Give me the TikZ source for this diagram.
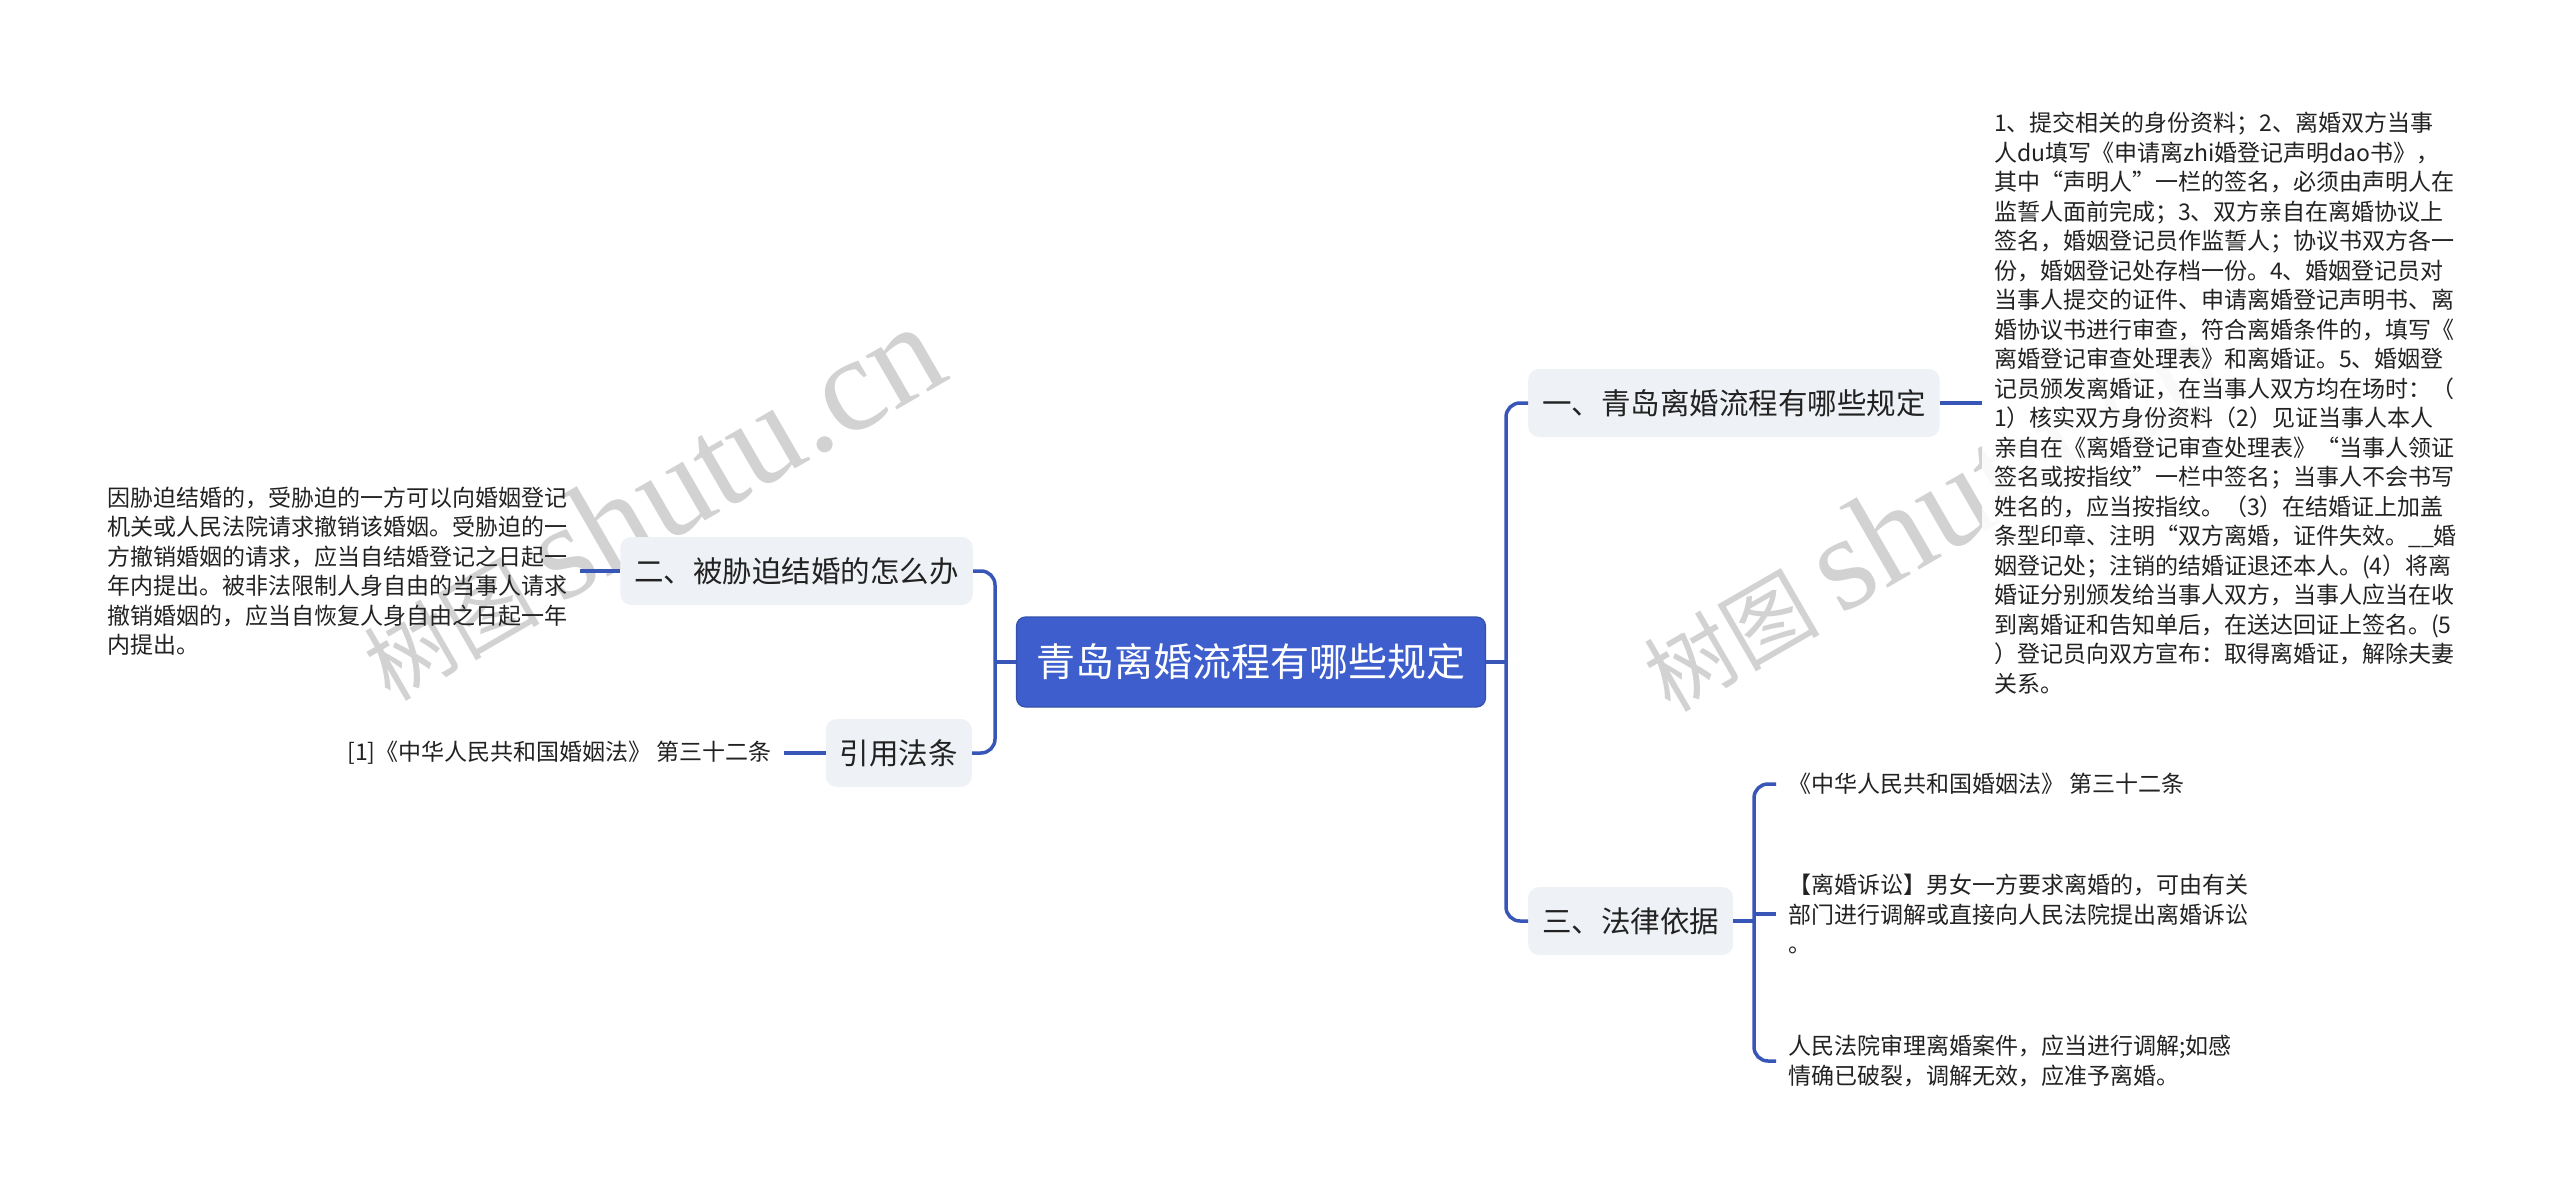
\documentclass[tikz,border=0pt]{standalone}
\usepackage{fontspec}
\newfontfamily\cjk{Noto Sans CJK SC}
\newfontfamily\wmlat{Liberation Serif}
\definecolor{rootblue}{RGB}{61,94,204}
\definecolor{linkblue}{RGB}{56,86,184}
\definecolor{subfill}{RGB}{238,241,245}
\definecolor{txt}{RGB}{34,34,34}
\definecolor{wmgray}{RGB}{210,210,210}
\tikzset{
  rootbox/.style={fill=rootblue, draw=rootblue!85!black, line width=1.2, rounded corners=9,
    text=white, font=\cjk\fontsize{39}{47}\selectfont, inner xsep=20, inner ysep=0, minimum height=90},
  subbox/.style={fill=subfill, rounded corners=11, text=txt,
    font=\cjk\fontsize{29.5}{36}\selectfont, inner xsep=14, inner ysep=0, minimum height=68},
  leaf/.style={text=txt, font=\cjk\fontsize{23}{29.5}\selectfont, align=left, inner xsep=12, inner ysep=4},
  conn/.style={draw=linkblue, line width=3.5},
  wm/.style={text=wmgray, rotate=30, inner sep=0}
}
\begin{document}
\begin{tikzpicture}[x=1pt,y=-1pt]
\path[use as bounding box, fill=white] (0,0) rectangle (2560,1199);

% watermarks
\node[wm] (wmA) at (650,503) {{\cjk\fontsize{88}{90}\selectfont 树图}\hspace{20pt}{\wmlat\fontsize{135}{140}\selectfont shutu.cn}};
\node[wm] (wmB) at (1930,514) {{\cjk\fontsize{88}{90}\selectfont 树图}\hspace{20pt}{\wmlat\fontsize{135}{140}\selectfont shutu.cn}};

% main nodes
\node[rootbox] (root) at (1251,662) {青岛离婚流程有哪些规定};
\node[subbox, anchor=west] (n1) at (1528,403) {一、青岛离婚流程有哪些规定};
\node[subbox, anchor=west] (n3) at (1528,921) {三、法律依据};
\node[subbox, anchor=east] (n2) at (973,571) {二、被胁迫结婚的怎么办};
\node[subbox, anchor=east] (n4) at (972,753) {引用法条};

% leaves
\node[leaf, anchor=west, fill=white, fill opacity=0.88, text opacity=1] (t1) at (1982,403) {1、提交相关的身份资料；2、离婚双方当事\\
人du填写《申请离zhi婚登记声明dao书》，\\
其中“声明人”一栏的签名，必须由声明人在\\
监誓人面前完成；3、双方亲自在离婚协议上\\
签名，婚姻登记员作监誓人；协议书双方各一\\
份，婚姻登记处存档一份。4、婚姻登记员对\\
当事人提交的证件、申请离婚登记声明书、离\\
婚协议书进行审查，符合离婚条件的，填写《\\
离婚登记审查处理表》和离婚证。5、婚姻登\\
记员颁发离婚证，在当事人双方均在场时：（\\
1）核实双方身份资料（2）见证当事人本人\\
亲自在《离婚登记审查处理表》“当事人领证\\
签名或按指纹”一栏中签名；当事人不会书写\\
姓名的，应当按指纹。（3）在结婚证上加盖\\
条型印章、注明“双方离婚，证件失效。\_\_婚\\
姻登记处；注销的结婚证退还本人。(4）将离\\
婚证分别颁发给当事人双方，当事人应当在收\\
到离婚证和告知单后，在送达回证上签名。(5\\
）登记员向双方宣布：取得离婚证，解除夫妻\\
关系。};

\node[leaf, anchor=east] (t2) at (580,571) {因胁迫结婚的，受胁迫的一方可以向婚姻登记\\
机关或人民法院请求撤销该婚姻。受胁迫的一\\
方撤销婚姻的请求，应当自结婚登记之日起一\\
年内提出。被非法限制人身自由的当事人请求\\
撤销婚姻的，应当自恢复人身自由之日起一年\\
内提出。};

\node[leaf, anchor=east] (t4) at (784,753) {[1]《中华人民共和国婚姻法》 第三十二条};

\node[leaf, anchor=west] (ca) at (1776,784) {《中华人民共和国婚姻法》 第三十二条};
\node[leaf, anchor=west] (cb) at (1776,914) {【离婚诉讼】男女一方要求离婚的，可由有关\\
部门进行调解或直接向人民法院提出离婚诉讼\\
。};
\node[leaf, anchor=west] (cc) at (1776,1061) {人民法院审理离婚案件，应当进行调解;如感\\
情确已破裂，调解无效，应准予离婚。};

% connectors
\coordinate (rt) at (1506,662);
\coordinate (lt) at (995,662);
\coordinate (st) at (1754,921);

\draw[conn] (root.east) -- (rt);
\draw[conn, rounded corners=14] (n1.west) -| (rt) |- (n3.west);
\draw[conn] (root.west) -- (lt);
\draw[conn, rounded corners=14] (n2.east) -| (lt) |- (n4.east);

\draw[conn] (n1.east) -- (t1.west);
\draw[conn] (n2.west) -- (t2.east);
\draw[conn] (n4.west) -- (t4.east);

\draw[conn] (n3.east) -- (st);
\draw[conn, rounded corners=14] (ca.west) -| (st) |- (cc.west);
\draw[conn] (st |- cb.west) -- (cb.west);
\end{tikzpicture}
\end{document}
